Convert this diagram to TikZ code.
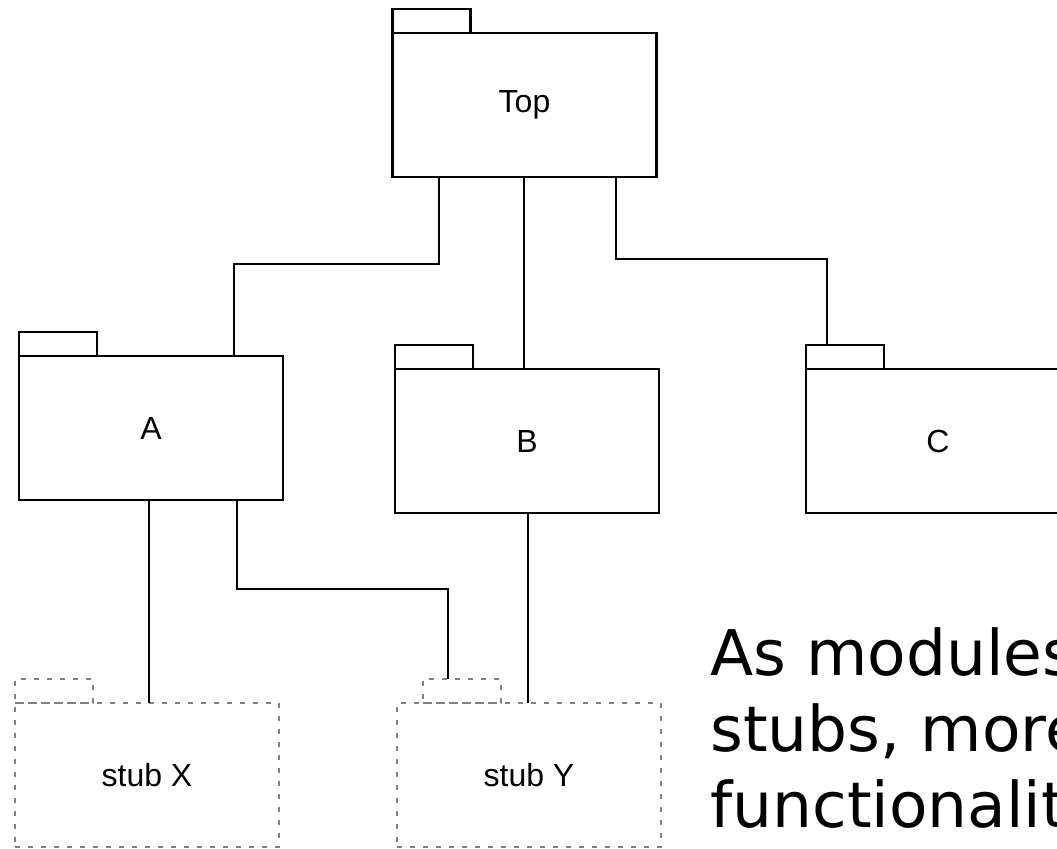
\documentclass[tikz,border=0pt]{standalone}
\usepackage{fontspec}
\setmainfont{Liberation Sans}
\newfontfamily\notefont{DejaVu Sans}
\usepackage{tikz}
\usetikzlibrary{calc}
\tikzset{>=latex}
\tikzset{pkg/.style={draw,line width=1.4pt,outer sep=0pt,inner sep=0pt,minimum width=132pt,minimum height=72pt,font=\fontsize{16}{19}\selectfont}}
\tikzset{pkgtab/.style={draw,line width=1.4pt,outer sep=0pt,inner sep=0pt,minimum width=39pt,minimum height=12pt,anchor=south west}}
\tikzset{stub/.style={pkg,draw=gray,line width=1pt,dash pattern=on 2.5pt off 4pt}}
\tikzset{stubtab/.style={pkgtab,draw=gray,line width=1pt,dash pattern=on 2.5pt off 4pt}}
\tikzset{link/.style={line width=1.4pt}}

\begin{document}
\begin{tikzpicture}[x=0.5pt,y=-0.5pt]
            \useasboundingbox (0,0) rectangle (1057,848);
            \node[pkg] (top) at (524.5,105) {Top};
            \node[pkg] (a) at (151,428) {A};
            \node[pkg] (b) at (527,441) {B};
            \node[pkg] (c) at (938,441) {C};
            \node[stub] (x) at (147,775) {stub X};
            \node[stub] (y) at (529,775) {stub Y};
            \node[pkgtab] (toptab) at (top.north west) {};
            \node[pkgtab] (atab) at (a.north west) {};
            \node[pkgtab] (btab) at (b.north west) {};
            \node[pkgtab] (ctab) at (c.north west) {};
            \node[stubtab] (xtab) at (x.north west) {};
            \node[stubtab,xshift=13pt] (ytab) at (y.north west) {};
            \draw[link] (top.south -| 439,0) |- (234,264) -- (a.north -| 234,0);
            \draw[link] (top.south -| 524,0) -- (b.north -| 524,0);
            \draw[link] (top.south -| 616,0) |- (827,259) -- (ctab.north -| 827,0);
            \draw[link] (a.south -| 149,0) -- (x.north -| 149,0);
            \draw[link] (a.south -| 237,0) |- (448,589) -- (ytab.north -| 448,0);
            \draw[link] (b.south -| 528,0) -- (y.north -| 528,0);
            \node[anchor=base west,align=left,inner sep=0pt,font=\notefont\fontsize{31.5}{38}\selectfont] (note) at (710,827) {As modules\\stubs, more\\functionality};
        \end{tikzpicture}
\end{document}
